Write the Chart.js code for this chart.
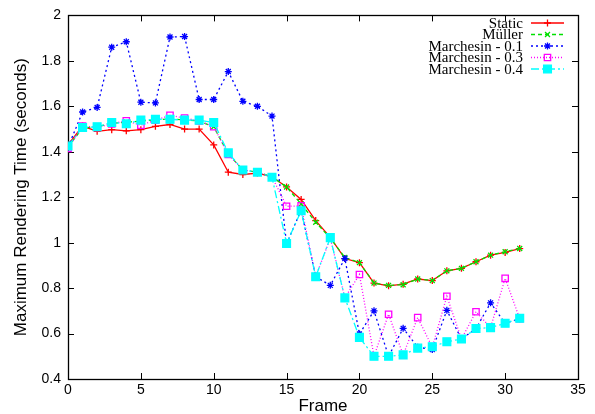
<!DOCTYPE html>
<html><head><meta charset="utf-8">
<script src="https://cdn.jsdelivr.net/npm/chart.js@4/dist/chart.umd.min.js"></script>
<style>html,body{margin:0;padding:0;background:#fff;}#wrap{width:595px;height:414px;}</style>
</head><body><div id="wrap"><canvas id="c" width="595" height="414"></canvas></div>
<script>
const frames = [0,1,2,3,4,5,6,7,8,9,10,11,12,13,14,15,16,17,18,19,20,21,22,23,24,25,26,27,28,29,30,31];
const seriesNames = ['Static','Müller','Marchesin - 0.1','Marchesin - 0.3','Marchesin - 0.4'];
const staticVals = [1.43,1.513,1.49,1.497,1.492,1.497,1.512,1.52,1.50,1.50,1.43,1.31,1.30,1.306,1.29,1.245,1.19,1.097,1.023,0.93,0.912,0.822,0.81,0.817,0.84,0.833,0.876,0.887,0.916,0.945,0.957,0.974];
const mullerVals = [1.42,1.505,1.51,1.525,1.53,1.535,1.54,1.545,1.54,1.535,1.51,1.39,1.32,1.31,1.29,1.245,1.17,1.09,1.02,0.935,0.912,0.822,0.812,0.815,0.84,0.833,0.876,0.887,0.916,0.945,0.96,0.974];
const march01Vals = [1.42,1.575,1.595,1.86,1.884,1.618,1.615,1.905,1.907,1.63,1.63,1.753,1.622,1.6,1.557,0.995,1.143,0.85,0.812,0.93,0.598,0.70,0.50,0.623,0.54,0.53,0.702,0.576,0.622,0.735,0.645,0.665];
const march03Vals = [1.415,1.513,1.507,1.523,1.536,1.517,1.539,1.56,1.548,1.536,1.51,1.388,1.32,1.31,1.29,1.16,1.162,0.85,1.02,0.757,0.86,0.50,0.685,0.506,0.67,0.54,0.764,0.576,0.696,0.626,0.843,0.665];
const march04Vals = [1.425,1.507,1.51,1.529,1.523,1.539,1.543,1.543,1.539,1.539,1.529,1.395,1.32,1.31,1.288,0.996,1.14,0.85,1.022,0.757,0.583,0.50,0.50,0.506,0.536,0.542,0.564,0.576,0.622,0.626,0.645,0.667];
const xTickValues = [0,5,10,15,20,25,30,35];
const yTickValues = [0.4,0.6,0.8,1.0,1.2,1.4,1.6,1.8,2.0];

function pts(vals){ return frames.map((f,i)=>({x:f,y:vals[i]})); }

const styles = [
  {color:'#ff0000', dash:[], point:'cross', r:3.5, fill:'#ff0000', order:5},
  {color:'#00e000', dash:[4,3], point:'crossRot', r:3.5, fill:'#00e000', order:4},
  {color:'#0000ff', dash:[2,3], point:'star', r:3.5, fill:'#0000ff', order:3},
  {color:'#ff00ff', dash:[1,2], point:'rect', r:4.5, fill:'rgba(0,0,0,0)', order:2},
  {color:'#00ffff', dash:[8,3,2,3], point:'rect', r:5.5, fill:'#00ffff', order:1}
];
const allVals = [staticVals, mullerVals, march01Vals, march03Vals, march04Vals];

const datasets = allVals.map((v,i)=>({
  label: seriesNames[i],
  data: pts(v),
  borderColor: styles[i].color,
  borderWidth: 1.3,
  borderDash: styles[i].dash,
  pointStyle: styles[i].point,
  pointRadius: styles[i].r,
  pointBorderColor: styles[i].color,
  pointBackgroundColor: styles[i].fill,
  pointBorderWidth: 1.3,
  order: styles[i].order,
  tension: 0,
  fill: false
}));

const frameTicks = {
  id: 'frameTicks',
  beforeDatasetsDraw(chart){
    const {ctx, chartArea:a, scales:{x, y}} = chart;
    ctx.save();
    ctx.strokeStyle = '#000';
    ctx.lineWidth = 1;
    ctx.setLineDash([]);
    ctx.beginPath();
    xTickValues.forEach(v=>{
      const px = Math.round(x.getPixelForValue(v))+0.5;
      ctx.moveTo(px, a.bottom); ctx.lineTo(px, a.bottom-6);
      ctx.moveTo(px, a.top); ctx.lineTo(px, a.top+6);
    });
    yTickValues.forEach(v=>{
      const py = Math.round(y.getPixelForValue(v))+0.5;
      ctx.moveTo(a.left, py); ctx.lineTo(a.left+6, py);
      ctx.moveTo(a.right, py); ctx.lineTo(a.right-6, py);
    });
    ctx.stroke();
    ctx.lineWidth = 1.3;
    ctx.strokeRect(Math.round(a.left)+0.5, Math.round(a.top)+0.5, Math.round(a.right-a.left), Math.round(a.bottom-a.top));
    ctx.restore();
  }
};

const keyPlugin = {
  id: 'keyPlugin',
  afterDraw(chart){
    const ctx = chart.ctx;
    const textRight = 523, x0 = 531, x1 = 564, top = 23, step = 11.5;
    ctx.save();
    ctx.font = '15px "Liberation Serif", "DejaVu Serif", serif';
    ctx.textAlign = 'right';
    ctx.textBaseline = 'middle';
    chart.data.datasets.forEach((ds,i)=>{
      const yy = top + i*step;
      ctx.fillStyle = '#000';
      ctx.fillText(ds.label, textRight, yy+1);
      ctx.strokeStyle = ds.borderColor;
      ctx.lineWidth = ds.borderWidth;
      ctx.setLineDash(ds.borderDash);
      ctx.beginPath(); ctx.moveTo(x0, yy); ctx.lineTo(x1, yy); ctx.stroke();
      ctx.setLineDash([]);
      ctx.fillStyle = ds.pointBackgroundColor;
      ctx.lineWidth = ds.pointBorderWidth;
      Chart.helpers.drawPoint(ctx, {pointStyle: ds.pointStyle, radius: ds.pointRadius, rotation: 0, borderWidth: ds.pointBorderWidth}, (x0+x1)/2, yy);
    });
    ctx.restore();
  }
};

new Chart(document.getElementById('c'), {
  type: 'line',
  data: { datasets },
  options: {
    responsive: false,
    animation: false,
    devicePixelRatio: 1,
    layout: { padding: { top: 11, right: 17, left: 0, bottom: 0 } },
    plugins: { legend: { display: false }, tooltip: { enabled: false } },
    scales: {
      x: {
        type: 'linear', min: 0, max: 35,
        afterBuildTicks(s){ s.ticks = xTickValues.map(v=>({value:v})); },
        afterFit(s){ s.height = 35; },
        grid: { display: false, drawTicks: false },
        border: { display: false },
        ticks: { color: '#000', padding: 3, maxRotation: 0, font: { family: '"Liberation Sans", Arial, sans-serif', size: 14 }, callback: v => String(v) },
        title: { display: true, text: 'Frame', color: '#000', padding: { top: 0, bottom: -3 }, font: { family: '"Liberation Sans", Arial, sans-serif', size: 17 } }
      },
      y: {
        type: 'linear', min: 0.4, max: 2,
        afterBuildTicks(s){ s.ticks = yTickValues.map(v=>({value:v})); },
        afterFit(s){ s.width = 68; },
        grid: { display: false, drawTicks: false },
        border: { display: false },
        ticks: { color: '#000', padding: 7, font: { family: '"Liberation Sans", Arial, sans-serif', size: 14 }, callback: v => String(Math.round(v*10)/10) },
        title: { display: true, text: 'Maximum Rendering Time (seconds)', color: '#000', padding: { top: 11, bottom: 0 }, font: { family: '"Liberation Sans", Arial, sans-serif', size: 17 } }
      }
    }
  },
  plugins: [frameTicks, keyPlugin]
});
</script>
</body></html>
